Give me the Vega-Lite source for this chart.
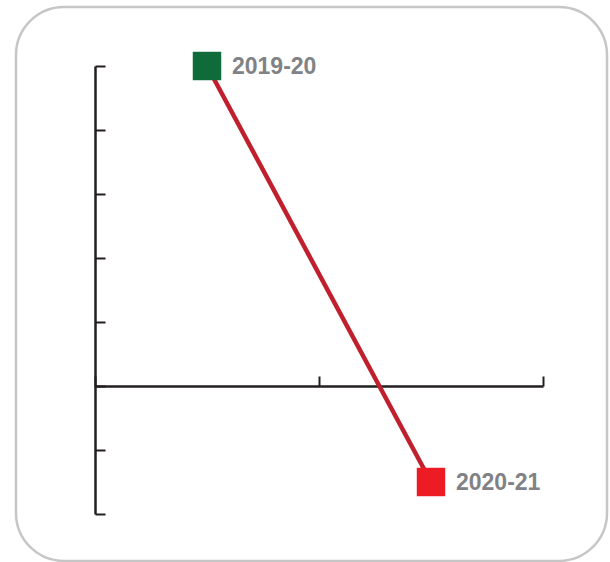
{
  "$schema": "https://vega.github.io/schema/vega-lite/v6.json",
  "autosize": {"type": "none"},
  "width": 448,
  "height": 448,
  "padding": {"left": 95, "top": 66, "right": 67, "bottom": 48},
  "background": "white",
  "config": {"view": {"stroke": null}},
  "data": {"values": [
    {"year": "2019-20", "x": 0.5, "y": 5},
    {"year": "2020-21", "x": 1.5, "y": -1.5}
  ]},
  "layer": [
    {
      "data": {"values": [{}]},
      "mark": {"type": "rect", "filled": false, "stroke": "#c6c6c6", "strokeWidth": 2.5, "cornerRadius": 48, "clip": false},
      "encoding": {
        "x": {"datum": -0.3527, "type": "quantitative", "scale": {"domain": [0, 2], "nice": false, "zero": false}, "axis": {"title": null, "labels": false, "grid": false, "values": [0, 1, 2], "tickSize": -10, "tickWidth": 2, "tickColor": "#231f20", "domainColor": "#231f20", "domainWidth": 2.5, "offset": -128}},
        "x2": {"datum": 2.2857},
        "y": {"datum": 5.922, "type": "quantitative", "scale": {"domain": [-2, 5], "nice": false, "zero": false}, "axis": {"title": null, "labels": false, "grid": false, "values": [-2, -1, 0, 1, 2, 3, 4, 5], "tickSize": -10, "tickWidth": 2, "tickColor": "#231f20", "domainColor": "#231f20", "domainWidth": 2.5}},
        "y2": {"datum": -2.734}
      }
    },
    {
      "mark": {"type": "line", "color": "#c0202e", "strokeWidth": 4.5},
      "encoding": {
        "x": {"field": "x", "type": "quantitative"},
        "y": {"field": "y", "type": "quantitative"}
      }
    },
    {
      "mark": {"type": "point", "shape": "square", "filled": true, "size": 810, "opacity": 1},
      "encoding": {
        "x": {"field": "x", "type": "quantitative"},
        "y": {"field": "y", "type": "quantitative"},
        "color": {"field": "year", "type": "nominal", "scale": {"domain": ["2019-20", "2020-21"], "range": ["#0f6b39", "#ed1c24"]}, "legend": null}
      }
    },
    {
      "mark": {"type": "text", "align": "left", "baseline": "alphabetic", "dx": 25, "dy": 8, "font": "Liberation Sans", "fontWeight": "bold", "fontSize": 23, "color": "#808285"},
      "encoding": {
        "x": {"field": "x", "type": "quantitative"},
        "y": {"field": "y", "type": "quantitative"},
        "text": {"field": "year", "type": "nominal"}
      }
    }
  ]
}
